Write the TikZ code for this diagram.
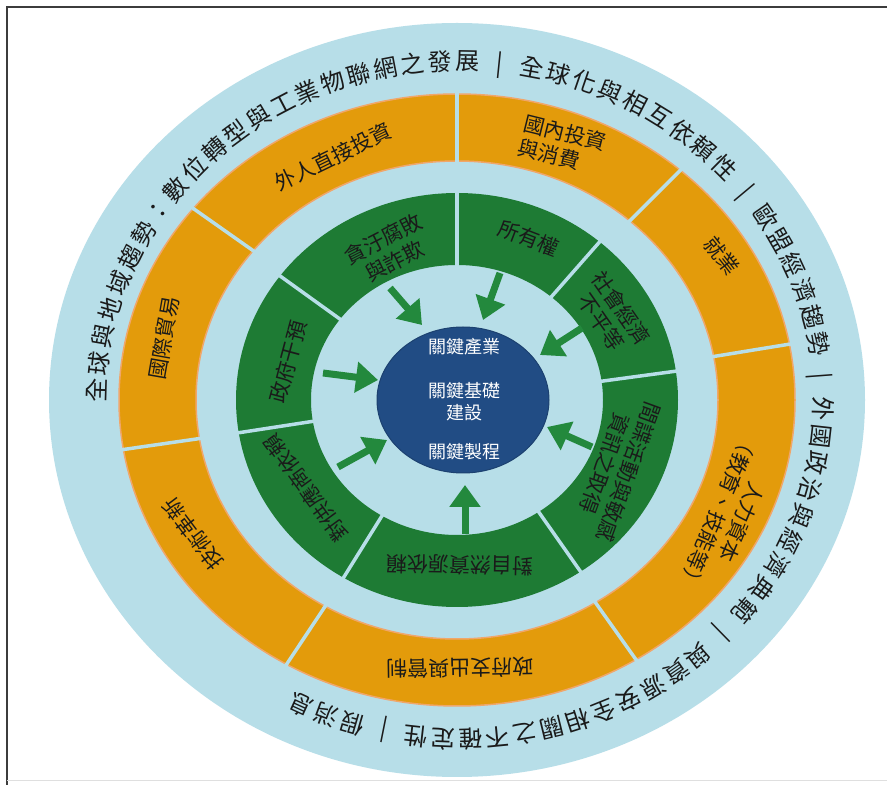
\documentclass[tikz,border=0pt]{standalone}
\usepackage{fontspec}
\newfontfamily\cjk{Noto Sans CJK TC}
\usetikzlibrary{decorations.text,arrows.meta,shapes.geometric}
\definecolor{lblue}{HTML}{B7DEE8}
\definecolor{ora}{HTML}{E39B0B}
\definecolor{oraedge}{HTML}{F0A66A}
\definecolor{grn}{HTML}{1E7B34}
\definecolor{agrn}{HTML}{23893D}
\definecolor{cblue}{HTML}{214C84}
\definecolor{txt}{HTML}{1A1A1A}
\definecolor{framec}{HTML}{3C3C3C}
\tikzset{
  seglabel/.style={font=\cjk\fontsize{21pt}{25pt}\selectfont, text=txt, inner sep=0pt, align=center},
  corelabel/.style={font=\cjk\fontsize{18pt}{22pt}\selectfont, text=white, inner sep=0pt, align=center},
  divider/.style={draw=lblue, line width=3.5pt},
  bigarrow/.style={draw=agrn, line width=7pt, -{Triangle[width=30pt,length=22pt]}},
}
\begin{document}
\begin{tikzpicture}[x=1pt,y=1pt]
\useasboundingbox (0,0) rectangle (887,785);
\fill[white] (0,0) rectangle (887,785);
\draw[framec, line width=2pt] (7,0) -- (7,778) -- (887,778);
\draw[gray!25, line width=1pt] (7,4) -- (887,4);
\coordinate (O) at (457,385);
\coordinate (T) at (460,385);
% outer light blue disc
\fill[lblue] (O) ellipse [x radius=408pt, y radius=377pt];
% orange ring
\path[fill=ora, draw=oraedge, line width=1.5pt, even odd rule]
  (O) ellipse [x radius=338pt, y radius=306pt]
  (O) ellipse [x radius=261pt, y radius=239pt];
\foreach \t in {90,48.6,10.5,-58,239.7,189.3,141.3}
  \draw[divider] ([shift={(\t:258pt and 236pt)}]O) -- ([shift={(\t:341pt and 309pt)}]O);
% green ring
\path[fill=grn, even odd rule]
  (O) ellipse [x radius=221pt, y radius=207pt]
  (O) ellipse [x radius=146pt, y radius=135pt];
\foreach \t in {90,49.8,8,-56,239.1,189.1,143.2}
  \draw[divider] ([shift={(\t:144pt and 133pt)}]O) -- ([shift={(\t:223pt and 209pt)}]O);
% outer text
\path[decorate, decoration={text along path, text align={fit to path},
   text format delimiters={[}{]}, text color=txt,
   text={[\cjk\fontsize{24pt}{24pt}\selectfont]全球與地域趨勢：數位轉型與工業物聯網之發展{\hbox to 34pt{\hss|\hss}}全球化與相互依賴性{\hbox to 34pt{\hss|\hss}}歐盟經濟趨勢{\hbox to 34pt{\hss|\hss}}外國政治與經濟典範{\hbox to 34pt{\hss|\hss}}與資源安全相關之不確定性{\hbox to 34pt{\hss|\hss}}假消息}}]
  ([shift={(180.5:354pt and 330pt)}]T) arc [start angle=180.5, end angle=-118, x radius=354pt, y radius=330pt];
% orange labels
\node[seglabel, rotate=26] (o1) at (333,628) {外人直接投資};
\node[seglabel, rotate=-14, align=left] (o2) at (562,640) {國內投資\\與消費};
\node[seglabel, rotate=-52] (o3) at (722,529) {就業};
\node[seglabel, rotate=-113] (o4) at (730,268) {人力資本\\（教育、技能等）};
\node[seglabel, rotate=181] (o5) at (460,117) {政府支出與管制};
\node[seglabel, rotate=127] (o6) at (193,251) {技術革新};
\node[seglabel, rotate=80] (o7) at (164,447) {國際貿易};
% green labels
\node[seglabel, rotate=27] (g1) at (389,535) {貪汙腐敗\\與詐欺};
\node[seglabel, rotate=-21] (g2) at (529,547) {所有權};
\node[seglabel, rotate=-55] (g3) at (611,470) {社會經濟\\不平等};
\node[seglabel, rotate=-110] (g4) at (617,317) {間諜活動與敏感\\資訊之取得};
\node[seglabel, rotate=179] (g5) at (460,220) {對自然資源依賴};
\node[seglabel, rotate=126] (g6) at (306,297) {對供應商依賴};
\node[seglabel, rotate=75] (g7) at (288,423) {政府干預};
% core
\node[ellipse, fill=cblue, draw=cblue!85!black, line width=1pt, minimum width=172pt, minimum height=146pt, inner sep=0pt] (core) at (463,385) {};
\node[corelabel] (c1) at (464,438) {關鍵產業};
\node[corelabel] (c2) at (464,383) {關鍵基礎\\建設};
\node[corelabel] (c3) at (464,333) {關鍵製程};
% arrows
\coordinate (a1s) at (390,497); \coordinate (a1e) at (422,460);
\coordinate (a2s) at (500,512); \coordinate (a2e) at (483,465);
\coordinate (a3s) at (582,457); \coordinate (a3e) at (540,430);
\coordinate (a4s) at (592,338); \coordinate (a4e) at (547,358);
\coordinate (a5s) at (465,251); \coordinate (a5e) at (465,300);
\coordinate (a6s) at (338,318); \coordinate (a6e) at (387,345);
\coordinate (a7s) at (323,412); \coordinate (a7e) at (378,405);
\foreach \i in {1,...,7} \draw[bigarrow] (a\i s) -- (a\i e);
\end{tikzpicture}
\end{document}
